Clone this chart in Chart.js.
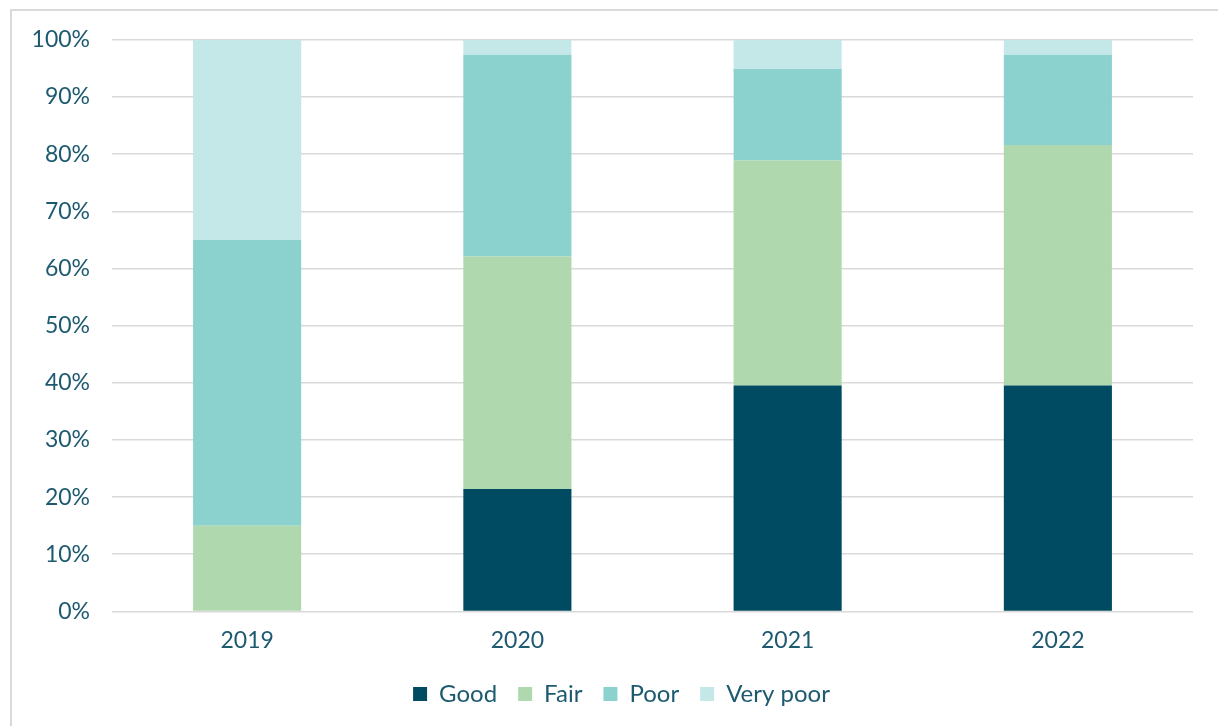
<!DOCTYPE html>
<html>
<head>
<meta charset="utf-8">
<script src="https://cdn.jsdelivr.net/npm/chart.js@4"></script>
<style>
  html, body { margin: 0; padding: 0; background: #fff; }
  body { width: 1218px; height: 726px; overflow: hidden; position: relative; }
  .frame {
    position: absolute; left: 10px; top: 9px;
    width: 1220px; height: 730px;
    border: 2px solid #d9d9d9; box-sizing: border-box;
  }
  .wrap { position: absolute; left: 0; top: 4px; width: 1218px; height: 722px; }
</style>
</head>
<body>
<div class="frame"></div>
<div class="wrap"><canvas id="conditionChart"></canvas></div>
<script>
// Share of condition ratings per year (percent)
const years = ['2019', '2020', '2021', '2022'];
const good = [0, 21.4, 39.5, 39.5];
const fair = [15, 40.7, 39.4, 42.1];
const poor = [50, 35.3, 16.0, 15.8];
const veryPoor = [35, 2.6, 5.1, 2.6];

const textColor = '#1d5a70';
const gridColor = '#d9d9d9';
const fontFamily = 'Lato, "Noto Sans", sans-serif';

function makeDataset(label, data, color) {
    return {
        label: label,
        data: data,
        backgroundColor: color,
        borderWidth: 0,
        categoryPercentage: 0.8,
        barPercentage: 0.5
    };
}

// nudge the legend right so it sits a bit off the canvas centre
const legendShift = {
    id: 'legendShift',
    afterLayout(chart) {
        chart.legend.left += 25;
        chart.legend.right += 25;
    }
};

document.addEventListener('DOMContentLoaded', () => {
    const ctx = document.getElementById('conditionChart').getContext('2d');
    new Chart(ctx, {
        type: 'bar',
        data: {
            labels: years,
            datasets: [
                makeDataset('Good', good, '#004b62'),
                makeDataset('Fair', fair, '#afd8ae'),
                makeDataset('Poor', poor, '#8bd1cd'),
                makeDataset('Very poor', veryPoor, '#c4e7e7')
            ]
        },
        options: {
            responsive: true,
            maintainAspectRatio: false,
            animation: false,
            layout: { padding: { left: 0, right: 25, top: 32, bottom: 10 } },
            plugins: {
                legend: {
                    position: 'bottom',
                    labels: {
                        color: textColor,
                        font: { family: fontFamily, size: 24 },
                        boxWidth: 14,
                        boxHeight: 14,
                        padding: 21
                    }
                },
                tooltip: { enabled: false }
            },
            scales: {
                x: {
                    stacked: true,
                    grid: { display: false },
                    border: { display: false },
                    ticks: {
                        color: textColor,
                        font: { family: fontFamily, size: 23 },
                        padding: 7
                    }
                },
                y: {
                    stacked: true,
                    min: 0,
                    max: 100,
                    afterFit: (scale) => { scale.width = 112; },
                    grid: { color: gridColor, lineWidth: 1.5, drawTicks: false },
                    border: { display: false },
                    ticks: {
                        stepSize: 10,
                        color: textColor,
                        font: { family: fontFamily, size: 23 },
                        padding: 22,
                        callback: (v) => v + '%'
                    }
                }
            }
        },
        plugins: [legendShift]
    });
});
</script>
</body>
</html>
